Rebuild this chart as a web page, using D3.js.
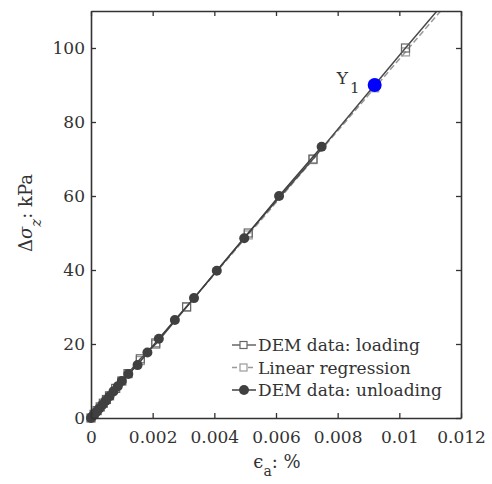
<!DOCTYPE html>
<html>
<head>
<meta charset="utf-8">
<script src="https://cdn.jsdelivr.net/npm/d3@7"></script>
<style>
  body { margin: 0; background: #fff; }
  text { font-family: "DejaVu Serif", "Liberation Serif", serif; fill: #333; }
</style>
</head>
<body>
<div id="chart"></div>
<script>
// loading data (strain %, stress kPa)
var loadX = [0, 0.0001, 0.0002, 0.0003, 0.0004, 0.0005, 0.0006, 0.0008, 0.001, 0.0012, 0.0016, 0.0021, 0.0031, 0.0051, 0.0072, 0.0092, 0.0102, 0.01122]
var loadY = [0, 1, 2, 3, 4, 5, 6, 8, 10, 12, 16, 20, 30, 50, 70, 90, 100, 110]
var loadMarked = [true, true, true, true, true, true, true, true, true, true, true, true, true, true, true, true, true, false]

// unloading data
var unloadX = [0.00748, 0.0061, 0.00497, 0.00408, 0.00334, 0.00272, 0.0022, 0.00183, 0.00151, 0.00121, 0.001, 0.00087, 0.00073, 0.0006, 0.00048, 0.00037, 0.00027, 0.00018, 0.0001, 0.00004, 0]
var unloadY = [73.3, 60, 48.6, 39.8, 32.4, 26.5, 21.4, 17.7, 14.3, 11.9, 10, 8.6, 7.2, 5.9, 4.7, 3.6, 2.6, 1.7, 0.9, 0.4, 0]

// linear regression (slope kPa per %)
var regSlope = 9700
var regX = [0, 0.0016, 0.0021, 0.0031, 0.0051, 0.0072, 0.0092, 0.0102, 0.01134]

// Y1 point
var y1Point = [0.0092, 90]

var xTicks = [0, 0.002, 0.004, 0.006, 0.008, 0.01, 0.012]
var yTicks = [0, 20, 40, 60, 80, 100]

var width = 492, height = 484
var margin = {top: 11, right: 31, bottom: 66, left: 91}

var svg = d3.select("#chart").append("svg")
    .attr("width", width)
    .attr("height", height)

var x = d3.scaleLinear().domain([0, 0.012]).range([margin.left, width - margin.right])
var y = d3.scaleLinear().domain([0, 110]).range([height - margin.bottom, margin.top])

var axisColor = "#333"

// clip for lines
svg.append("clipPath").attr("id", "clip")
  .append("rect")
    .attr("x", margin.left).attr("y", margin.top)
    .attr("width", x.range()[1] - margin.left)
    .attr("height", y.range()[0] - margin.top)

var plot = svg.append("g")

var line = d3.line().x(d => x(d[0])).y(d => y(d[1]))

var loadData = loadX.map((d, i) => [d, loadY[i]])
var unloadData = unloadX.map((d, i) => [d, unloadY[i]])
var regData = regX.map(d => [d, d * regSlope])

// regression (dashed, light)
plot.append("path")
    .datum(regData)
    .attr("clip-path", "url(#clip)")
    .attr("fill", "none")
    .attr("stroke", "#999")
    .attr("stroke-width", 1.5)
    .attr("stroke-dasharray", "6,3")
    .attr("d", line)

plot.selectAll(".regSq")
    .data(regData.slice(1, regData.length - 1))
    .enter().append("rect")
    .attr("x", d => x(d[0]) - 4)
    .attr("y", d => y(d[1]) - 4)
    .attr("width", 8).attr("height", 8)
    .attr("fill", "none")
    .attr("stroke", "#999")
    .attr("stroke-width", 1.2)

// loading line
plot.append("path")
    .datum(loadData)
    .attr("clip-path", "url(#clip)")
    .attr("fill", "none")
    .attr("stroke", "#4a4a4a")
    .attr("stroke-width", 1.5)
    .attr("d", line)

plot.selectAll(".loadSq")
    .data(loadData.filter((d, i) => loadMarked[i]))
    .enter().append("rect")
    .attr("x", d => x(d[0]) - 4)
    .attr("y", d => y(d[1]) - 4)
    .attr("width", 8).attr("height", 8)
    .attr("fill", "none")
    .attr("stroke", "#666")
    .attr("stroke-width", 1.2)

// unloading line
plot.append("path")
    .datum(unloadData)
    .attr("fill", "none")
    .attr("stroke", "#404040")
    .attr("stroke-width", 1.5)
    .attr("d", line)

plot.selectAll(".unCircle")
    .data(unloadData)
    .enter().append("circle")
    .attr("cx", d => x(d[0]))
    .attr("cy", d => y(d[1]))
    .attr("r", 5)
    .attr("fill", "#404040")

// Y1 point
plot.append("circle")
    .attr("cx", x(y1Point[0]))
    .attr("cy", y(y1Point[1]))
    .attr("r", 7)
    .attr("fill", "#0000ff")

var y1Label = plot.append("text")
    .attr("x", x(y1Point[0]) - 38)
    .attr("y", y(y1Point[1]) - 1)
    .attr("font-size", 17)
y1Label.append("tspan").text("Y")
y1Label.append("tspan").attr("dy", 9).attr("dx", 2).attr("font-size", 15).text("1")

// axes box
var axB = d3.axisBottom(x).tickValues(xTicks).tickFormat(d => d3.format("")(+d.toFixed(3))).tickSizeInner(-5).tickSizeOuter(0).tickPadding(13)
var axL = d3.axisLeft(y).tickValues(yTicks).tickSizeInner(-5).tickSizeOuter(0).tickPadding(6)
var axT = d3.axisTop(x).tickValues(xTicks).tickFormat("").tickSizeInner(-5).tickSizeOuter(0)
var axR = d3.axisRight(y).tickValues(yTicks).tickFormat("").tickSizeInner(-5).tickSizeOuter(0)

var gB = svg.append("g").attr("transform", `translate(0,${y.range()[0]})`).call(axB)
var gL = svg.append("g").attr("transform", `translate(${margin.left},0)`).call(axL)
var gT = svg.append("g").attr("transform", `translate(0,${margin.top})`).call(axT)
var gR = svg.append("g").attr("transform", `translate(${x.range()[1]},0)`).call(axR)

;[gB, gL, gT, gR].forEach(g => {
  g.select(".domain").attr("stroke", axisColor).attr("stroke-width", 1.6)
  g.selectAll(".tick line").attr("stroke", axisColor).attr("stroke-width", 1.3)
  g.selectAll(".tick text").attr("font-size", 17).attr("fill", "#333")
    .style("font-family", "'DejaVu Serif', serif")
})

// legend
var legendItems = [
  {label: "DEM data: loading", stroke: "#666", dash: null, marker: "sq", fill: "none"},
  {label: "Linear regression", stroke: "#999", dash: "5,3", marker: "sq", fill: "none"},
  {label: "DEM data: unloading", stroke: "#404040", dash: null, marker: "circle", fill: "#404040"}
]

var legend = svg.append("g").attr("transform", "translate(232,345)")
legendItems.forEach((d, i) => {
  var g = legend.append("g").attr("transform", `translate(0,${i * 22.5})`)
  g.append("line").attr("x1", 0).attr("x2", 24).attr("y1", 0).attr("y2", 0)
    .attr("stroke", d.stroke).attr("stroke-width", 1.5)
    .attr("stroke-dasharray", d.dash)
  if (d.marker == "sq") {
    g.append("rect").attr("x", 8).attr("y", -3.5).attr("width", 7).attr("height", 7)
      .attr("fill", "#fff").attr("stroke", d.stroke).attr("stroke-width", 1.2)
  } else {
    g.append("circle").attr("cx", 12).attr("cy", 0).attr("r", 5).attr("fill", d.fill)
  }
  g.append("text").attr("x", 26).attr("y", 6).attr("font-size", 17).text(d.label)
})

// axis labels
var xl = svg.append("text")
    .attr("x", 277).attr("y", 468)
    .attr("text-anchor", "middle")
    .attr("font-size", 18)
xl.append("tspan").text("ϵ")
xl.append("tspan").attr("dy", 8).attr("font-size", 14).text("a")
xl.append("tspan").attr("dy", -8).text(": %")

var yl = svg.append("text")
    .attr("transform", "translate(32,213) rotate(-90)")
    .attr("text-anchor", "middle")
    .attr("font-size", 18)
yl.append("tspan").text("Δ")
yl.append("tspan").attr("font-style", "italic").text("σ")
yl.append("tspan").attr("dy", 9).attr("font-size", 15).attr("font-style", "italic").text("z")
yl.append("tspan").attr("dy", -9).text(": kPa")
</script>
</body>
</html>
